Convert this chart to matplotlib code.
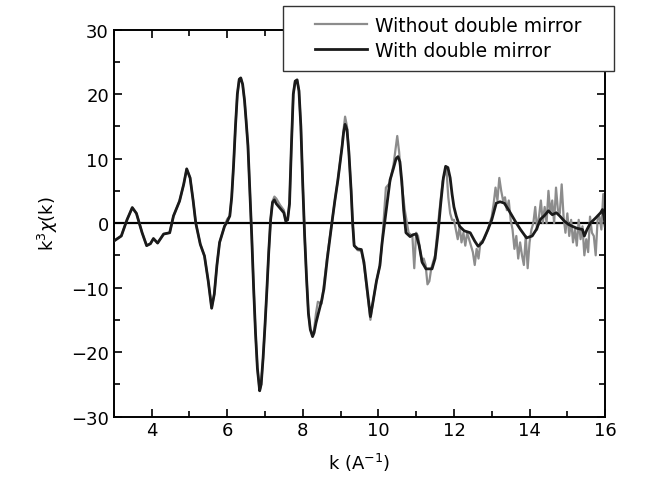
import matplotlib
matplotlib.use("Agg")
import matplotlib.pyplot as plt
from matplotlib.ticker import MultipleLocator
from matplotlib.patches import Rectangle

# With double mirror (black)
k_with = [3.0, 3.2, 3.35, 3.49, 3.6, 3.75, 3.87, 3.97, 4.05, 4.16,
          4.25, 4.32, 4.48, 4.58, 4.74, 4.85, 4.93, 5.02, 5.1, 5.17,
          5.29, 5.4, 5.5, 5.59, 5.66, 5.73, 5.8, 5.93, 6.0, 6.07,
          6.12, 6.17, 6.22, 6.27, 6.32, 6.36, 6.41, 6.46, 6.5, 6.55,
          6.6, 6.65, 6.7, 6.75, 6.8, 6.86, 6.9, 6.95, 7.0, 7.05,
          7.1, 7.15, 7.2, 7.25, 7.3, 7.4, 7.5, 7.55, 7.6, 7.65,
          7.7, 7.75, 7.8, 7.85, 7.9, 7.95, 8.0, 8.05, 8.1, 8.15,
          8.2, 8.26, 8.3, 8.35, 8.4, 8.5, 8.56, 8.65, 8.77, 8.85,
          8.93, 9.0, 9.04, 9.08, 9.12, 9.17, 9.22, 9.28, 9.32, 9.36,
          9.45, 9.55, 9.62, 9.7, 9.79, 9.85, 9.95, 10.04, 10.1, 10.2,
          10.31, 10.4, 10.47, 10.52, 10.57, 10.62, 10.67, 10.73, 10.84, 10.92,
          11.0, 11.08, 11.16, 11.26, 11.42, 11.5, 11.58, 11.65, 11.72, 11.78,
          11.84, 11.9, 11.95, 12.0, 12.06, 12.15, 12.27, 12.43, 12.55, 12.64,
          12.75, 12.9, 13.0, 13.12, 13.22, 13.33, 13.45, 13.54, 13.65, 13.76,
          13.92, 14.07, 14.18, 14.29, 14.4, 14.5, 14.6, 14.71, 14.8, 14.92,
          15.03, 15.13, 15.25, 15.4, 15.45, 15.52, 15.61, 15.75, 15.88, 15.93,
          15.97, 16.0]
y_with = [-2.8, -2.0, 0.5, 2.4, 1.5, -1.5, -3.5, -3.2, -2.4, -3.1,
          -2.3, -1.7, -1.5, 1.1, 3.4, 6.0, 8.4, 7.0, 3.5, 0.0,
          -3.3, -5.1, -9.0, -13.2, -11.0, -6.5, -3.0, -0.5, 0.2, 1.1,
          4.0, 9.0, 15.0, 20.0, 22.3, 22.5, 21.5, 19.0, 16.0, 12.0,
          5.0, -2.0, -10.0, -17.0, -22.5, -26.0, -25.0, -21.0, -16.0, -10.5,
          -4.5, 0.5, 3.2, 3.6, 3.0, 2.3, 1.6, 0.3, 0.5, 3.0,
          12.0, 20.0, 22.0, 22.2, 20.5, 15.0, 6.0, -2.0, -8.5, -14.0,
          -16.5, -17.6, -17.0, -15.5, -14.3, -12.0, -10.2, -5.5, 0.0, 3.5,
          6.7, 10.0, 11.8, 14.0, 15.3, 14.5, 11.0, 5.0, 0.0, -3.5,
          -4.0, -4.1, -6.1, -10.0, -14.5, -12.5, -9.0, -6.6, -3.0, 1.6,
          6.7, 8.5, 10.0, 10.3, 9.5, 6.5, 2.0, -1.5, -2.1, -1.8,
          -1.7, -3.5, -6.1, -7.1, -7.1, -5.5, -1.5, 3.0, 7.0, 8.8,
          8.6, 7.0, 4.5, 2.5, 1.1, -0.5, -1.2, -1.5, -2.8, -3.6,
          -3.0, -1.0, 0.5, 3.1, 3.3, 3.1, 2.0, 1.1, 0.0, -1.0,
          -2.3, -2.0, -1.0, 0.6, 1.2, 1.9, 1.3, 1.6, 1.1, 0.3,
          -0.2, -0.5, -0.8, -1.0, -2.0, -1.0, 0.0, 0.8, 1.6, 2.1,
          1.0, -0.5]

# Without double mirror (gray)
k_without = [3.0, 3.2, 3.35, 3.49, 3.6, 3.75, 3.87, 3.97, 4.05, 4.16,
             4.25, 4.32, 4.48, 4.58, 4.74, 4.85, 4.93, 5.02, 5.1, 5.17,
             5.29, 5.4, 5.5, 5.59, 5.66, 5.73, 5.8, 5.93, 6.0, 6.07,
             6.12, 6.17, 6.22, 6.27, 6.32, 6.36, 6.41, 6.46, 6.5, 6.55,
             6.6, 6.65, 6.7, 6.75, 6.8, 6.86, 6.9, 6.95, 7.0, 7.05,
             7.1, 7.15, 7.2, 7.25, 7.3, 7.4, 7.5, 7.55, 7.6, 7.65,
             7.7, 7.75, 7.8, 7.85, 7.9, 7.95, 8.0, 8.05, 8.1, 8.15,
             8.2, 8.26, 8.3, 8.35, 8.4, 8.5, 8.56, 8.65, 8.77, 8.85,
             8.93, 9.0, 9.04, 9.08, 9.12, 9.17, 9.22, 9.28, 9.32, 9.36,
             9.45, 9.55, 9.62, 9.7, 9.79, 9.85, 9.95, 10.04, 10.1,
             10.2, 10.3, 10.4, 10.5, 10.55, 10.6, 10.7, 10.8, 10.9, 10.95, 11.0,
             11.05, 11.1, 11.15, 11.2, 11.25, 11.3, 11.35, 11.4, 11.5, 11.6, 11.7, 11.8, 11.85,
             11.9, 11.95, 12.0, 12.05, 12.1, 12.15, 12.2, 12.25, 12.3, 12.35, 12.4, 12.5, 12.55,
             12.6, 12.65, 12.7, 12.8, 12.9, 13.0, 13.05, 13.1, 13.15, 13.2, 13.25, 13.3, 13.35,
             13.4, 13.45, 13.5, 13.55, 13.6, 13.65, 13.7, 13.75, 13.8, 13.85, 13.9, 13.95, 14.0,
             14.05, 14.1, 14.15, 14.2, 14.25, 14.3, 14.35, 14.4, 14.45, 14.5, 14.55, 14.6, 14.65,
             14.7, 14.75, 14.8, 14.85, 14.9, 14.95, 15.0, 15.05, 15.1, 15.15, 15.2, 15.25, 15.3,
             15.35, 15.4, 15.45, 15.5, 15.55, 15.6, 15.65, 15.7, 15.75, 15.8, 15.85, 15.9, 15.95,
             16.0]
y_without = [-2.8, -2.0, 0.5, 2.4, 1.5, -1.5, -3.5, -3.2, -2.4, -3.1,
             -2.3, -1.7, -1.5, 1.1, 3.4, 6.0, 8.4, 7.0, 3.5, 0.0,
             -3.3, -5.1, -9.0, -13.2, -11.0, -6.5, -3.0, -0.5, 0.6, 1.1,
             4.0, 9.0, 15.0, 20.0, 22.3, 22.5, 21.5, 19.0, 16.0, 12.0,
             5.0, -2.0, -10.0, -17.0, -22.5, -26.0, -25.0, -21.0, -16.0, -10.5,
             -4.5, 0.5, 3.4, 4.1, 3.8, 2.8, 2.0, 0.5, 0.5, 3.0,
             12.0, 20.0, 22.0, 22.2, 20.5, 15.0, 6.0, -2.0, -8.5, -14.0,
             -16.5, -17.3, -16.5, -14.0, -12.2, -12.5, -9.5, -5.0, 0.0, 3.5,
             6.7, 10.0, 12.0, 14.5, 16.5, 15.0, 11.0, 5.0, 0.0, -3.5,
             -4.2, -4.3, -6.5, -10.5, -15.0, -12.5, -9.0, -6.6, -3.0,
             5.5, 6.2, 9.0, 13.5, 11.0, 7.0, 2.0, -1.5, -2.0, -7.0, -1.5,
             -2.0, -4.0, -6.0, -5.5, -6.5, -9.5, -9.0, -7.0, -5.0, 1.0, 6.5, 8.5, 4.0,
             1.5, 0.5, 0.5, -1.0, -2.5, -0.5, -3.0, -1.5, -3.5, -1.5, -2.5, -4.5, -6.5,
             -4.0, -5.5, -3.0, -2.5, -1.0, 1.0, 3.0, 5.5, 3.5, 7.0, 5.0, 3.5, 4.0,
             2.0, 3.5, 0.5, -1.0, -4.0, -2.0, -5.5, -3.0, -5.0, -6.5, -2.0, -7.0, -3.0,
             -1.0, 0.0, 2.5, -1.0, 1.0, 3.5, 0.0, 2.5, 0.0, 5.0, 1.5, 3.5, 0.0,
             5.5, 2.0, 1.5, 6.0, 1.0, -1.5, 1.5, -2.0, 0.5, -3.0, -1.0, -3.5, 0.5,
             -2.5, -0.5, -5.0, -2.5, -4.5, 1.0, -1.5, -2.0, -5.0, 0.5, 1.0, -1.0, 4.5,
             1.0]

x_ticks = [4, 6, 8, 10, 12, 14, 16]
y_ticks = [-30, -20, -10, 0, 10, 20, 30]
y_ticklabels = ['\u221230', '\u221220', '\u221210', '0', '10', '20', '30']
series_labels = ['Without double mirror', 'With double mirror']

plt.rcParams['font.family'] = ['DejaVu Sans']
fig = plt.figure(figsize=(6.5, 4.85), dpi=100)
ax = fig.add_axes([0.175, 0.139, 0.756, 0.798])

ax.axhline(0, color='black', lw=1.6, zorder=1)
ax.plot(k_without, y_without, color='#8c8c8c', lw=1.6, label=series_labels[0],
        zorder=2, solid_joinstyle='round')
ax.plot(k_with, y_with, color='#1a1a1a', lw=2.0, label=series_labels[1],
        zorder=3, solid_joinstyle='round')

ax.set_xlim(3, 16)
ax.set_ylim(-30, 30)
ax.set_xticks(x_ticks)
ax.set_yticks(y_ticks)
ax.set_yticklabels(y_ticklabels)
ax.xaxis.set_minor_locator(MultipleLocator(1))
ax.yaxis.set_minor_locator(MultipleLocator(5))
ax.tick_params(which='both', direction='in', top=True, right=True, labelsize=13, width=1.2)
ax.tick_params(which='major', length=6)
ax.tick_params(which='minor', length=4)
for s in ax.spines.values():
    s.set_linewidth(1.4)

ax.set_xlabel(r'k (A$^{-1}$)', fontsize=13, labelpad=8)
ax.set_ylabel(r'k$^{3}\chi$(k)', fontsize=13, labelpad=8)

# legend box (white, drawn over the axes frame)
box = Rectangle((283 / 650, 1 - 72 / 485), 331 / 650, 65 / 485, transform=fig.transFigure,
                facecolor='white', edgecolor='#333333', lw=1.0, zorder=5)
fig.patches.append(box)
leg = fig.legend(*ax.get_legend_handles_labels(), loc='upper left',
                 bbox_to_anchor=(315 / 650, 1 - 17 / 485), borderaxespad=0, borderpad=0,
                 fontsize=13.5, frameon=False, handlelength=2.75, labelspacing=0.3,
                 handletextpad=0.45)
leg.set_zorder(6)

fig.savefig('out.png', dpi=100)
